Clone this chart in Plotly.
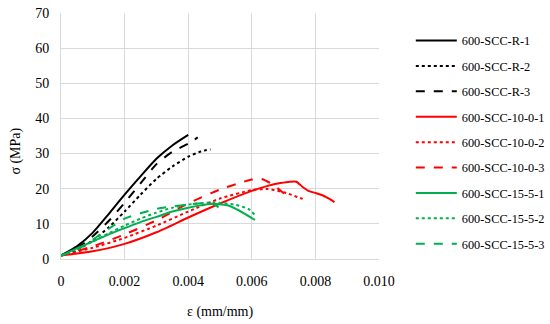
import plotly.graph_objects as go

# strain (mm/mm) and stress (MPa) per specimen
r1_x = [0, 0.0005, 0.001, 0.0015, 0.002, 0.0025, 0.003, 0.0035, 0.004]
r1_y = [1, 3.6, 7.5, 12.8, 18.3, 23.5, 28.5, 32.3, 35.3]
r2_x = [0, 0.0005, 0.001, 0.0015, 0.002, 0.0025, 0.003, 0.0035, 0.004, 0.0044, 0.0047]
r2_y = [1, 2.5, 5.3, 9.0, 13.5, 18.3, 22.8, 26.3, 29.1, 30.6, 31.2]
r3_x = [0, 0.0005, 0.001, 0.0015, 0.002, 0.0025, 0.003, 0.0035, 0.004, 0.0043]
r3_y = [1, 3.0, 6.5, 10.8, 16.0, 21.5, 27.0, 30.5, 32.8, 34.6]
a1_x = [0, 0.001, 0.002, 0.003, 0.004, 0.005, 0.006, 0.0065, 0.0069, 0.0072, 0.0074, 0.0076, 0.0078, 0.008, 0.0082, 0.0084, 0.0086]
a1_y = [1, 2.2, 4.3, 7.6, 11.8, 15.8, 19.4, 20.8, 21.6, 22.0, 22.0, 20.5, 19.3, 18.8, 18.2, 17.3, 16.2]
a2_x = [0, 0.001, 0.002, 0.003, 0.004, 0.005, 0.006, 0.0065, 0.007, 0.0076]
a2_y = [1, 3.2, 6.0, 9.5, 13.5, 17.2, 19.6, 19.9, 19.0, 17.1]
a3_x = [0, 0.001, 0.002, 0.003, 0.004, 0.005, 0.0055, 0.006, 0.0063, 0.0066, 0.0069, 0.0072]
a3_y = [1, 3.6, 7.0, 11.0, 15.8, 19.8, 21.3, 22.6, 22.8, 21.5, 19.5, 17.2]
b1_x = [0, 0.0005, 0.001, 0.0015, 0.002, 0.0025, 0.003, 0.0035, 0.004, 0.0045, 0.0048, 0.0053, 0.0056, 0.0061]
b1_y = [1, 3.0, 5.0, 7.0, 8.8, 10.5, 12.0, 13.5, 14.6, 15.4, 15.7, 15.1, 13.8, 11.1]
b2_x = [0, 0.0005, 0.001, 0.0015, 0.002, 0.0025, 0.003, 0.0035, 0.004, 0.0048, 0.0055, 0.0059, 0.0061]
b2_y = [1, 2.8, 5.0, 7.3, 9.5, 11.5, 13.2, 14.6, 15.5, 16.1, 15.4, 14.2, 12.5]
b3_x = [0, 0.0005, 0.001, 0.0015, 0.002, 0.0025, 0.003, 0.0035, 0.004, 0.0045, 0.0048, 0.005]
b3_y = [1, 2.6, 5.5, 8.6, 11.5, 13.0, 14.3, 15.0, 15.5, 15.9, 15.6, 14.4]

names = ["600-SCC-R-1", "600-SCC-R-2", "600-SCC-R-3",
         "600-SCC-10-0-1", "600-SCC-10-0-2", "600-SCC-10-0-3",
         "600-SCC-15-5-1", "600-SCC-15-5-2", "600-SCC-15-5-3"]
xs = [r1_x, r2_x, r3_x, a1_x, a2_x, a3_x, b1_x, b2_x, b3_x]
ys = [r1_y, r2_y, r3_y, a1_y, a2_y, a3_y, b1_y, b2_y, b3_y]
colors = ["#000000"] * 3 + ["#FF0000"] * 3 + ["#00B050"] * 3
dashes = ["solid", "dot", "dash"] * 3

x_ticks = [0, 0.002, 0.004, 0.006, 0.008, 0.010]
x_labels = ["0", "0.002", "0.004", "0.006", "0.008", "0.010"]
y_ticks = [0, 10, 20, 30, 40, 50, 60, 70]

FONT = "Liberation Serif"

fig = go.Figure()
for i in range(9):
    fig.add_trace(go.Scatter(
        x=xs[i], y=ys[i], mode="lines", name=names[i], legendgroup=names[i],
        line=dict(color=colors[i], width=2, dash=dashes[i], shape="spline", smoothing=0.6),
    ))

fig.update_layout(
    width=550, height=324,
    margin=dict(l=61, r=171, t=13, b=65, autoexpand=False),
    paper_bgcolor="white", plot_bgcolor="white",
    font=dict(family=FONT, size=14, color="#000000"),
    legend=dict(x=1.1, y=0.947, xanchor="left", yanchor="top",
                font=dict(family=FONT, size=12.3, color="#000000"), tracegroupgap=6.4,
                itemwidth=41, bgcolor="rgba(0,0,0,0)"),
    xaxis=dict(range=[0, 0.010], tickvals=x_ticks, ticktext=x_labels,
               showgrid=True, gridcolor="#D9D9D9", gridwidth=1,
               zeroline=False, showline=True, linecolor="#D9D9D9", linewidth=1,
               ticks="", ticklabelstandoff=9, automargin=False),
    yaxis=dict(range=[0, 70], tickvals=y_ticks,
               showgrid=True, gridcolor="#D9D9D9", gridwidth=1,
               zeroline=False, showline=True, linecolor="#D9D9D9", linewidth=1,
               ticks="", ticklabelstandoff=8, automargin=False),
    annotations=[
        dict(text="ε (mm/mm)", xref="paper", yref="paper", x=0.5, y=-0.215,
             xanchor="center", yanchor="middle", showarrow=False,
             font=dict(family=FONT, size=14, color="#000000")),
        dict(text="σ (MPa)", xref="paper", yref="paper", x=-0.142, y=0.44,
             xanchor="center", yanchor="middle", showarrow=False, textangle=-90,
             font=dict(family=FONT, size=14, color="#000000")),
    ],
)

# remove the default 8px page margin so the figure sits at the window origin
fig.write_html("out.html", config={"displayModeBar": False},
               post_script="document.body.style.margin='0';")
